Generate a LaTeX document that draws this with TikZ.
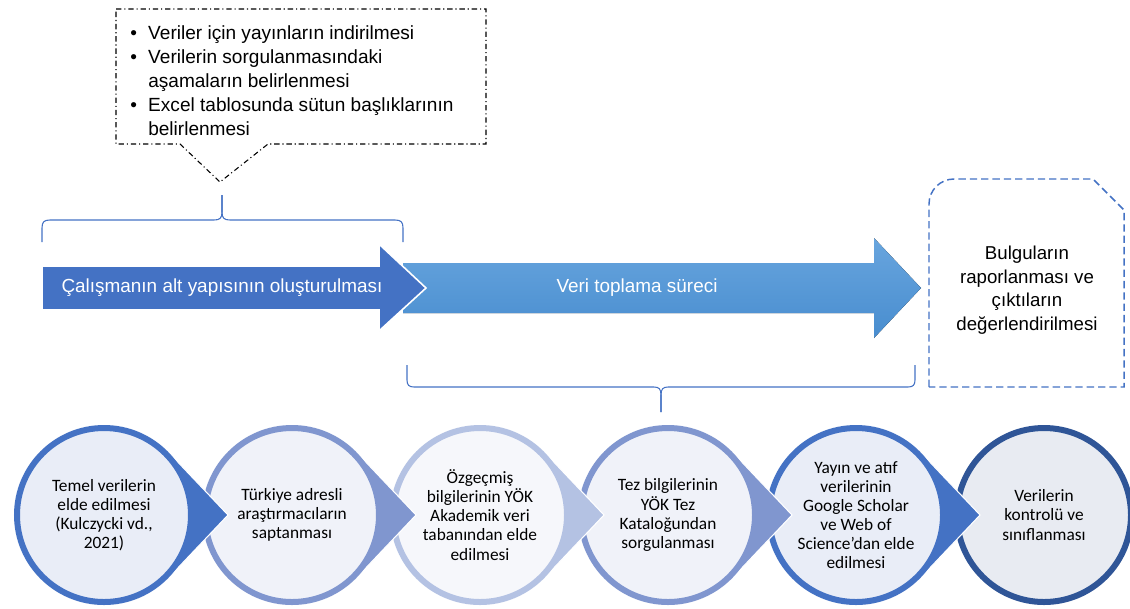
\documentclass[tikz,border=0pt]{standalone}
\usepackage{fontspec}
\setmainfont{Liberation Sans}
\newfontfamily\calibrifont{Carlito}

\definecolor{blueA}{RGB}{68,114,196}
\definecolor{blueB}{RGB}{128,150,207}
\definecolor{blueC}{RGB}{180,194,227}
\definecolor{blueD}{RGB}{47,85,151}
\definecolor{fillA}{RGB}{233,237,247}
\definecolor{fillB}{RGB}{240,242,249}
\definecolor{fillC}{RGB}{246,247,251}
\definecolor{fillD}{RGB}{232,235,242}
\definecolor{arrowtop}{RGB}{104,165,222}
\definecolor{arrowbot}{RGB}{72,141,207}

\tikzset{
  stepcircle/.style={circle, inner sep=0pt, minimum size=130.5pt, line width=4.5pt,
    align=center, text=black, font=\calibrifont\fontsize{13}{14.3}\selectfont},
  drop/.pic={\fill[pic actions, draw=white, line width=0.8pt]
    (124,0) -- (43.5:90) arc[start angle=43.5, end angle=316.5, radius=90] -- cycle;},
  arrowtext/.style={text=white, font=\fontsize{14.2}{17}\selectfont},
  bracket/.style={blueA, line width=0.8pt},
}

\begin{document}
\begin{tikzpicture}[x=0.75pt, y=-0.75pt]
\useasboundingbox (0,0) rectangle (1130,608);

% Callout
\draw[black, fill=white, line width=0.8pt, dash pattern=on 4pt off 2.2pt on 0.8pt off 2.2pt]
  (116,9) -- (486,9) -- (486,144) -- (268,144) -- (220,182) -- (180,144) -- (116,144) -- cycle;
\node[anchor=north west, inner sep=0pt, font=\fontsize{14.3}{18}\selectfont] (notes) at (130,22)
  {\begin{tabular}{@{}p{13.5pt}@{}l@{}}
   \textbullet & Veriler için yayınların indirilmesi\\
   \textbullet & Verilerin sorgulanmasındaki\\
               & aşamaların belirlenmesi\\
   \textbullet & Excel tablosunda sütun başlıklarının\\
               & belirlenmesi
   \end{tabular}};

% Braces
\draw[bracket] (42,242) -- (42,228) .. controls (42,222) and (44,220) .. (50,220) -- (214,220)
  .. controls (220,220) and (222,218) .. (222,212) -- (222,195);
\draw[bracket] (403,242) -- (403,228) .. controls (403,222) and (401,220) .. (395,220) -- (230,220)
  .. controls (224,220) and (222,218) .. (222,212) -- (222,195);
\draw[bracket] (407,365) -- (407,380) .. controls (407,385) and (409,387) .. (414,387) -- (654,387)
  .. controls (659,387) and (661,389) .. (661,395) -- (661,412);
\draw[bracket] (915,365) -- (915,380) .. controls (915,385) and (913,387) .. (908,387) -- (668,387)
  .. controls (663,387) and (661,389) .. (661,395) -- (661,412);

% Process arrows
\fill[top color=arrowtop, bottom color=arrowbot]
  (403,263) -- (874,263) -- (874,238) -- (921,288) -- (874,338) -- (874,313) -- (403,313) -- cycle;
\fill[blueA, draw=white, line width=1.2pt]
  (42,266) -- (379,266) -- (379,244) -- (426,288) -- (379,331) -- (379,310) -- (42,310) -- cycle;
\node[arrowtext] (build) at (222,288) {Çalışmanın alt yapısının oluşturulması};
\node[arrowtext] (collect) at (637,288) {Veri toplama süreci};

% Report box
\draw[blueA, fill=white, line width=1.1pt, dash pattern=on 5.5pt off 3pt]
  (929,387) -- (929,204) arc[start angle=180, end angle=270, radius=25]
  -- (1093,179) -- (1124,210) -- (1124,387) -- cycle;
\node[align=center, font=\fontsize{14}{17.6}\selectfont] (report) at (1027,290)
  {Bulguların\\raporlanması ve\\çıktıların\\değerlendirilmesi};

% Steps, right to left so each point lies over the next circle
\node[stepcircle, draw=blueD, fill=fillD] (s6) at (1044,515) {Verilerin\\kontrolü ve\\sınıflanması};
\pic[fill=blueA] at (856,515) {drop};
\node[stepcircle, draw=blueA, fill=fillA] (s5) at (856,515)
  {Yayın ve atıf\\verilerinin\\Google Scholar\\ve Web of\\Science’dan elde\\edilmesi};
\pic[fill=blueB] at (668,515) {drop};
\node[stepcircle, draw=blueB, fill=fillB] (s4) at (668,515)
  {Tez bilgilerinin\\YÖK Tez\\Kataloğundan\\sorgulanması};
\pic[fill=blueC] at (480,515) {drop};
\node[stepcircle, draw=blueC, fill=fillC] (s3) at (480,515)
  {Özgeçmiş\\bilgilerinin YÖK\\Akademik veri\\tabanından elde\\edilmesi};
\pic[fill=blueB] at (292,515) {drop};
\node[stepcircle, draw=blueB, fill=fillB] (s2) at (292,515)
  {Türkiye adresli\\araştırmacıların\\saptanması};
\pic[fill=blueA] at (104,515) {drop};
\node[stepcircle, draw=blueA, fill=fillA] (s1) at (104,515)
  {Temel verilerin\\elde edilmesi\\(Kulczycki vd.,\\2021)};

\end{tikzpicture}
\end{document}
